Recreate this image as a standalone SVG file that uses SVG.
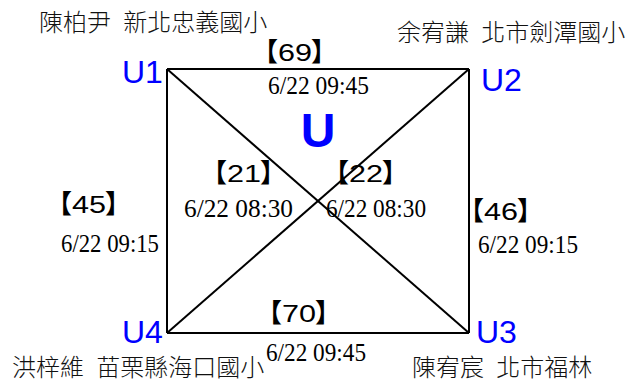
<svg xmlns="http://www.w3.org/2000/svg" width="629" height="381" viewBox="0 0 629 381">
<style>
.edge{stroke:#000;stroke-width:2;fill:none}
.ulab{font-family:"Liberation Sans",Arial,sans-serif;font-size:32px;fill:#0000ff}
.name{font-family:"Noto Sans CJK TC","Noto Sans CJK SC",sans-serif;font-size:24px;fill:#111;font-weight:300}
.date{font-family:"Liberation Serif","Times New Roman",serif;font-size:26px;fill:#000}
.br{font-family:"Noto Sans CJK TC","Noto Sans CJK SC",sans-serif;font-size:26px;font-weight:700;fill:#000}
.num{font-family:"Liberation Sans",Arial,sans-serif;font-size:23px;fill:#000}
.title{font-family:"Liberation Sans",Arial,sans-serif;font-size:48px;font-weight:700;fill:#0000ff}
</style>
<rect width="629" height="381" fill="#fff"/>
<g id="connectors">
<line class="edge" x1="167" y1="69" x2="469" y2="69"/>
<line class="edge" x1="469" y1="69" x2="469" y2="333"/>
<line class="edge" x1="469" y1="333" x2="167" y2="333"/>
<line class="edge" x1="167" y1="333" x2="167" y2="69"/>
<line class="edge" x1="167" y1="69" x2="469" y2="333"/>
<line class="edge" x1="469" y1="69" x2="167" y2="333"/>
</g>
<g id="U1">
<text class="ulab" x="122" y="83">U1</text>
<text class="name" x="39" y="31">陳柏尹 <tspan dx="7">新北忠義國小</tspan></text>
</g>
<g id="U2">
<text class="ulab" x="481" y="91">U2</text>
<text class="name" x="397" y="41">余宥謙 <tspan dx="7">北市劍潭國小</tspan></text>
</g>
<g id="U3">
<text class="ulab" x="476" y="343">U3</text>
<text class="name" x="412" y="376">陳宥宸 <tspan dx="7">北市福林</tspan></text>
</g>
<g id="U4">
<text class="ulab" x="122" y="343">U4</text>
<text class="name" x="12" y="376">洪梓維 <tspan dx="7">苗栗縣海口國小</tspan></text>
</g>
<g id="title">
<text class="title" x="318" y="147" text-anchor="middle">U</text>
</g>
<g id="edge-labels">
<text y="61"><tspan class="br" x="252">【</tspan><tspan class="num" x="278" textLength="34" lengthAdjust="spacingAndGlyphs">69</tspan><tspan class="br" x="311">】</tspan></text>
<text class="date" x="268" y="94" textLength="101" lengthAdjust="spacingAndGlyphs">6/22 09:45</text>
<text y="213"><tspan class="br" x="46">【</tspan><tspan class="num" x="72" textLength="34" lengthAdjust="spacingAndGlyphs">45</tspan><tspan class="br" x="105">】</tspan></text>
<text class="date" x="61" y="252" textLength="98" lengthAdjust="spacingAndGlyphs">6/22 09:15</text>
<text y="182"><tspan class="br" x="201">【</tspan><tspan class="num" x="227" textLength="34" lengthAdjust="spacingAndGlyphs">21</tspan><tspan class="br" x="260">】</tspan></text>
<text class="date" x="184" y="217" textLength="109" lengthAdjust="spacingAndGlyphs">6/22 08:30</text>
<text y="182"><tspan class="br" x="323">【</tspan><tspan class="num" x="349" textLength="34" lengthAdjust="spacingAndGlyphs">22</tspan><tspan class="br" x="382">】</tspan></text>
<text class="date" x="326" y="217" textLength="100" lengthAdjust="spacingAndGlyphs">6/22 08:30</text>
<text y="220"><tspan class="br" x="458">【</tspan><tspan class="num" x="484" textLength="34" lengthAdjust="spacingAndGlyphs">46</tspan><tspan class="br" x="517">】</tspan></text>
<text class="date" x="478" y="253" textLength="100" lengthAdjust="spacingAndGlyphs">6/22 09:15</text>
<text y="322"><tspan class="br" x="256">【</tspan><tspan class="num" x="282" textLength="34" lengthAdjust="spacingAndGlyphs">70</tspan><tspan class="br" x="315">】</tspan></text>
<text class="date" x="266" y="361" textLength="100" lengthAdjust="spacingAndGlyphs">6/22 09:45</text>
</g>
</svg>
